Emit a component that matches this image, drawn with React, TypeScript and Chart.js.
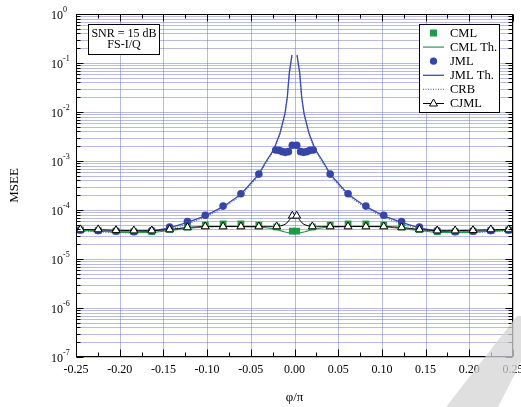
import React, { useEffect, useRef } from "react";
import { Chart, registerables } from "chart.js";

Chart.register(...registerables);

// ---------------- data ----------------
const cmlPhi = [-0.245, -0.2246, -0.2042, -0.1838, -0.1633, -0.1429, -0.1225, -0.1021, -0.0817, -0.0613, -0.0408, -0.0204, -0.0025, 0.0025, 0.0204, 0.0408, 0.0613, 0.0817, 0.1021, 0.1225, 0.1429, 0.1633, 0.1838, 0.2042, 0.2246, 0.245];
const cmlMsee = [3.9e-5, 3.8e-5, 3.7e-5, 3.6e-5, 3.6e-5, 4.0e-5, 4.5e-5, 4.9e-5, 5.2e-5, 5.2e-5, 4.9e-5, 4.5e-5, 3.7e-5, 3.7e-5, 4.5e-5, 4.9e-5, 5.2e-5, 5.2e-5, 4.9e-5, 4.5e-5, 4.0e-5, 3.6e-5, 3.6e-5, 3.7e-5, 3.8e-5, 3.9e-5];

const cmlThPhi = [-0.245, -0.2246, -0.2042, -0.1838, -0.1633, -0.1429, -0.1225, -0.1021, -0.0817, -0.0613, -0.0408, -0.0204, -0.012, -0.006, -0.002, 0.002, 0.006, 0.012, 0.0204, 0.0408, 0.0613, 0.0817, 0.1021, 0.1225, 0.1429, 0.1633, 0.1838, 0.2042, 0.2246, 0.245];
const cmlThMsee = [3.9e-5, 3.7e-5, 3.55e-5, 3.5e-5, 3.5e-5, 3.8e-5, 4.2e-5, 4.5e-5, 4.6e-5, 4.6e-5, 4.5e-5, 4.0e-5, 3.6e-5, 3.4e-5, 3.4e-5, 3.4e-5, 3.4e-5, 3.6e-5, 4.0e-5, 4.5e-5, 4.6e-5, 4.6e-5, 4.5e-5, 4.2e-5, 3.8e-5, 3.5e-5, 3.5e-5, 3.55e-5, 3.7e-5, 3.9e-5];

const jmlPhi = [-0.245, -0.2246, -0.2042, -0.1838, -0.1633, -0.1429, -0.1225, -0.1021, -0.0817, -0.0613, -0.0408, -0.0215, -0.0177, -0.014, -0.0105, -0.007, -0.0025, 0.0025, 0.007, 0.0105, 0.014, 0.0177, 0.0215, 0.0408, 0.0613, 0.0817, 0.1021, 0.1225, 0.1429, 0.1633, 0.1838, 0.2042, 0.2246, 0.245];
const jmlMsee = [3.9e-5, 3.8e-5, 3.7e-5, 3.6e-5, 3.8e-5, 4.5e-5, 5.8e-5, 7.8e-5, 1.2e-4, 2.15e-4, 5.4e-4, 1.68e-3, 1.65e-3, 1.55e-3, 1.5e-3, 1.55e-3, 2.1e-3, 2.1e-3, 1.55e-3, 1.5e-3, 1.55e-3, 1.65e-3, 1.68e-3, 5.4e-4, 2.15e-4, 1.2e-4, 7.8e-5, 5.8e-5, 4.5e-5, 3.8e-5, 3.6e-5, 3.7e-5, 3.8e-5, 3.9e-5];

const jmlThPhi = [-0.245, -0.2246, -0.2042, -0.1838, -0.1633, -0.1429, -0.1225, -0.1021, -0.0817, -0.0613, -0.0408, -0.0338, -0.0235, -0.0166, -0.0109, -0.0082, -0.006, -0.0029, 0, 0.0029, 0.006, 0.0082, 0.0109, 0.0166, 0.0235, 0.0338, 0.0408, 0.0613, 0.0817, 0.1021, 0.1225, 0.1429, 0.1633, 0.1838, 0.2042, 0.2246, 0.245];
const jmlThMsee = [3.9e-5, 3.75e-5, 3.6e-5, 3.55e-5, 3.7e-5, 4.3e-5, 5.6e-5, 7.6e-5, 1.17e-4, 2.1e-4, 5.4e-4, 9.0e-4, 1.75e-3, 3.7e-3, 9.4e-3, 2.05e-2, 6.2e-2, 1.46e-1, null, 1.46e-1, 6.2e-2, 2.05e-2, 9.4e-3, 3.7e-3, 1.75e-3, 9.0e-4, 5.4e-4, 2.1e-4, 1.17e-4, 7.6e-5, 5.6e-5, 4.3e-5, 3.7e-5, 3.55e-5, 3.6e-5, 3.75e-5, 3.9e-5];

const crbPhi = jmlThPhi;
const crbMsee = [3.7e-5, 3.55e-5, 3.45e-5, 3.4e-5, 3.5e-5, 4.0e-5, 5.2e-5, 7.1e-5, 1.09e-4, 1.95e-4, 5.0e-4, 8.4e-4, 1.62e-3, 3.45e-3, 8.8e-3, 1.9e-2, 5.8e-2, 1.38e-1, null, 1.38e-1, 5.8e-2, 1.9e-2, 8.8e-3, 3.45e-3, 1.62e-3, 8.4e-4, 5.0e-4, 1.95e-4, 1.09e-4, 7.1e-5, 5.2e-5, 4.0e-5, 3.5e-5, 3.4e-5, 3.45e-5, 3.55e-5, 3.7e-5];

const cjmlPhi = [-0.245, -0.2246, -0.2042, -0.1838, -0.1633, -0.1429, -0.1225, -0.1021, -0.0817, -0.0613, -0.0408, -0.0204, -0.0025, 0.0025, 0.0204, 0.0408, 0.0613, 0.0817, 0.1021, 0.1225, 0.1429, 0.1633, 0.1838, 0.2042, 0.2246, 0.245];
const cjmlMsee = [4.0e-5, 4.0e-5, 3.85e-5, 3.8e-5, 3.8e-5, 4.0e-5, 4.4e-5, 4.6e-5, 4.6e-5, 4.6e-5, 4.6e-5, 4.6e-5, 7.6e-5, 7.6e-5, 4.6e-5, 4.6e-5, 4.6e-5, 4.6e-5, 4.6e-5, 4.4e-5, 4.0e-5, 3.8e-5, 3.8e-5, 3.85e-5, 4.0e-5, 4.0e-5];

const cjmlLinePhi = [-0.245, -0.2246, -0.2042, -0.1838, -0.1633, -0.1429, -0.1225, -0.1021, -0.0817, -0.0613, -0.0408, -0.0204, -0.0108, -0.007, -0.004, -0.0025, 0.0025, 0.004, 0.007, 0.0108, 0.0204, 0.0408, 0.0613, 0.0817, 0.1021, 0.1225, 0.1429, 0.1633, 0.1838, 0.2042, 0.2246, 0.245];
const cjmlLineMsee = [4.0e-5, 3.95e-5, 3.85e-5, 3.8e-5, 3.8e-5, 4.0e-5, 4.4e-5, 4.6e-5, 4.6e-5, 4.6e-5, 4.6e-5, 4.6e-5, 5.1e-5, 5.9e-5, 7.0e-5, 7.6e-5, 7.6e-5, 7.0e-5, 5.9e-5, 5.1e-5, 4.6e-5, 4.6e-5, 4.6e-5, 4.6e-5, 4.6e-5, 4.4e-5, 4.0e-5, 3.8e-5, 3.8e-5, 3.85e-5, 3.95e-5, 4.0e-5];

const xTickValues = [-0.25, -0.2, -0.15, -0.1, -0.05, 0, 0.05, 0.1, 0.15, 0.2, 0.25];
const xTickLabels = ["-0.25", "-0.20", "-0.15", "-0.10", "-0.05", "0.00", "0.05", "0.10", "0.15", "0.20", "0.25"];
const yDecadeExponents = [0, -1, -2, -3, -4, -5, -6, -7];
const legendLabels = ["CML", "CML Th.", "JML", "JML Th.", "CRB", "CJML"];
const annotationLines = ["SNR = 15 dB", "FS-I/Q"];
const xTitle = "φ/π";
const yTitle = "MSEE";

// ---------------- styles ----------------
const FONT = '"Liberation Serif", "Times New Roman", serif';
const GREEN = "#1f9a4a";
const GREEN_LINE = "#2b9a52";
const BLUE = "#3646a6";
const BLUE_LINE = "#3c4cae";
const CRB_BLUE = "#6674c4";
const GRID = "rgba(112,118,200,0.5)";

const pts = (xs: number[], ys: (number | null)[]) => xs.map((x, i) => ({ x, y: ys[i] }));

const decorPlugin = {
  id: "decor",
  beforeDatasetsDraw(chart: any) {
    const { ctx, chartArea: a, scales } = chart;
    const x = scales.x, y = scales.y;
    ctx.save();
    ctx.strokeStyle = GRID;
    ctx.lineWidth = 1;
    ctx.beginPath();
    for (const v of xTickValues) {
      const px = Math.round(x.getPixelForValue(v)) + 0.5;
      ctx.moveTo(px, a.top);
      ctx.lineTo(px, a.bottom);
    }
    for (const e of yDecadeExponents) {
      if (e === 0) continue;
      for (let m = 1; m <= 9; m++) {
        const py = Math.round(y.getPixelForValue(m * Math.pow(10, e))) + 0.5;
        ctx.moveTo(a.left, py);
        ctx.lineTo(a.right, py);
      }
    }
    ctx.stroke();
    ctx.restore();
  },
  afterDraw(chart: any) {
    const { ctx, chartArea: a, scales } = chart;
    const x = scales.x, y = scales.y;
    ctx.save();
    const L = Math.round(a.left) + 0.5, R = Math.round(a.right) - 0.5;
    const T = Math.round(a.top) + 0.5, B = Math.round(a.bottom) - 0.5;
    ctx.strokeStyle = "#000";
    ctx.lineWidth = 1;
    ctx.beginPath();
    // x ticks
    xTickValues.forEach((v, i) => {
      const px = Math.round(x.getPixelForValue(v)) + 0.5;
      ctx.moveTo(px, B); ctx.lineTo(px, B - 7);
      ctx.moveTo(px, T); ctx.lineTo(px, T + 7);
      if (i < xTickValues.length - 1) {
        const pm = Math.round(x.getPixelForValue((v + xTickValues[i + 1]) / 2)) + 0.5;
        ctx.moveTo(pm, B); ctx.lineTo(pm, B - 4);
        ctx.moveTo(pm, T); ctx.lineTo(pm, T + 4);
      }
    });
    // y ticks
    for (const e of yDecadeExponents) {
      const py = Math.round(y.getPixelForValue(Math.pow(10, e))) + 0.5;
      ctx.moveTo(L, py); ctx.lineTo(L + 7, py);
      ctx.moveTo(R, py); ctx.lineTo(R - 7, py);
      if (e === 0) continue;
      for (let m = 2; m <= 9; m++) {
        const pm = Math.round(y.getPixelForValue(m * Math.pow(10, e))) + 0.5;
        ctx.moveTo(L, pm); ctx.lineTo(L + 4, pm);
        ctx.moveTo(R, pm); ctx.lineTo(R - 4, pm);
      }
    }
    ctx.stroke();
    ctx.strokeRect(L, T, R - L, B - T);

    // tick labels
    ctx.fillStyle = "#000";
    ctx.font = `12px ${FONT}`;
    ctx.textAlign = "center";
    ctx.textBaseline = "alphabetic";
    xTickValues.forEach((v, i) => {
      ctx.fillText(xTickLabels[i], x.getPixelForValue(v), a.bottom + 16);
    });
    for (const e of yDecadeExponents) {
      const py = y.getPixelForValue(Math.pow(10, e));
      ctx.font = `12px ${FONT}`;
      ctx.textAlign = "right";
      ctx.fillText("10", a.left - 13, py + 5);
      ctx.font = `8px ${FONT}`;
      ctx.textAlign = "left";
      ctx.fillText(String(e), a.left - 13, py - 2);
    }
    // axis titles
    ctx.font = `13px ${FONT}`;
    ctx.textAlign = "center";
    ctx.fillText(xTitle, (a.left + a.right) / 2, 401);
    ctx.save();
    ctx.translate(18, (a.top + a.bottom) / 2);
    ctx.rotate(-Math.PI / 2);
    ctx.fillText(yTitle, 0, 0);
    ctx.restore();

    // annotation box
    ctx.fillStyle = "#fff";
    ctx.fillRect(88.5, 24.5, 71, 30);
    ctx.strokeRect(88.5, 24.5, 71, 30);
    ctx.fillStyle = "#000";
    ctx.font = `12px ${FONT}`;
    ctx.textAlign = "center";
    ctx.textBaseline = "middle";
    ctx.fillText(annotationLines[0], 124, 33.5);
    ctx.fillText(annotationLines[1], 124, 45);

    // legend
    ctx.fillStyle = "#fff";
    ctx.fillRect(419.5, 24.5, 80, 88);
    ctx.strokeStyle = "#000";
    ctx.strokeRect(419.5, 24.5, 80, 88);
    const rowY = (i: number) => 33 + i * 14.1;
    const sx0 = 423, sx1 = 444, sc = 433.5;
    legendLabels.forEach((lab, i) => {
      const yy = rowY(i);
      ctx.save();
      if (i === 0) {
        ctx.fillStyle = GREEN;
        ctx.fillRect(sc - 3.5, yy - 3.5, 7, 7);
      } else if (i === 1) {
        ctx.strokeStyle = GREEN_LINE; ctx.lineWidth = 1.2;
        ctx.beginPath(); ctx.moveTo(sx0, yy); ctx.lineTo(sx1, yy); ctx.stroke();
      } else if (i === 2) {
        ctx.fillStyle = BLUE;
        ctx.beginPath(); ctx.arc(sc, yy, 3.6, 0, Math.PI * 2); ctx.fill();
      } else if (i === 3) {
        ctx.strokeStyle = BLUE_LINE; ctx.lineWidth = 1.3;
        ctx.beginPath(); ctx.moveTo(sx0, yy); ctx.lineTo(sx1, yy); ctx.stroke();
      } else if (i === 4) {
        ctx.strokeStyle = CRB_BLUE; ctx.lineWidth = 1.2; ctx.setLineDash([1, 1.5]);
        ctx.beginPath(); ctx.moveTo(sx0, yy); ctx.lineTo(sx1, yy); ctx.stroke();
      } else {
        ctx.strokeStyle = "#000"; ctx.lineWidth = 1;
        ctx.beginPath(); ctx.moveTo(sx0, yy); ctx.lineTo(sx1, yy); ctx.stroke();
        ctx.fillStyle = "#fff";
        ctx.beginPath();
        ctx.moveTo(sc, yy - 4.5); ctx.lineTo(sc + 4, yy + 2.5); ctx.lineTo(sc - 4, yy + 2.5); ctx.closePath();
        ctx.fill(); ctx.stroke();
      }
      ctx.restore();
      ctx.fillStyle = "#000";
      ctx.font = `12.5px ${FONT}`;
      ctx.textAlign = "left";
      ctx.textBaseline = "middle";
      ctx.fillText(lab, 450, yy + 0.5);
    });

    // light grey watermark band
    ctx.fillStyle = "rgba(212,212,212,0.75)";
    ctx.beginPath();
    ctx.moveTo(517, 316);
    ctx.lineTo(521, 316);
    ctx.lineTo(521, 362);
    ctx.lineTo(498, 407);
    ctx.lineTo(446, 407);
    ctx.closePath();
    ctx.fill();
    ctx.restore();
  },
};

export default function App() {
  const ref = useRef<HTMLCanvasElement | null>(null);
  useEffect(() => {
    document.body.style.margin = "0";
    const canvas = ref.current;
    if (!canvas) return;
    const chart = new Chart(canvas, {
      type: "line",
      data: {
        datasets: [
          { label: "CJML markers", data: pts(cjmlPhi, cjmlMsee), showLine: false, pointStyle: "triangle", pointRadius: 4.6, pointBackgroundColor: "#fff", pointBorderColor: "#000", pointBorderWidth: 1, order: 0 },
          { label: "CJML", data: pts(cjmlLinePhi, cjmlLineMsee), borderColor: "#000", borderWidth: 1, pointRadius: 0, tension: 0.3, order: 1 },
          { label: "JML", data: pts(jmlPhi, jmlMsee), showLine: false, pointStyle: "circle", pointRadius: 3.8, pointBackgroundColor: BLUE, pointBorderColor: BLUE, pointBorderWidth: 0, order: 2 },
          { label: "CML", data: pts(cmlPhi, cmlMsee), showLine: false, pointStyle: "rect", pointRadius: 4.8, pointBackgroundColor: GREEN, pointBorderColor: GREEN, pointBorderWidth: 0, order: 3 },
          { label: "CML Th.", data: pts(cmlThPhi, cmlThMsee), borderColor: GREEN_LINE, borderWidth: 1.2, pointRadius: 0, tension: 0.3, order: 4 },
          { label: "JML Th.", data: pts(jmlThPhi, jmlThMsee), borderColor: BLUE_LINE, borderWidth: 1.3, pointRadius: 0, spanGaps: false, order: 5 },
          { label: "CRB", data: pts(crbPhi, crbMsee), borderColor: CRB_BLUE, borderWidth: 1.2, borderDash: [1, 1.5], pointRadius: 0, spanGaps: false, order: 6 },
        ],
      },
      options: {
        animation: false,
        responsive: false,
        devicePixelRatio: 1,
        layout: { padding: { left: 76, right: 8, top: 14, bottom: 50 } },
        plugins: { legend: { display: false }, tooltip: { enabled: false } },
        scales: {
          x: { type: "linear", min: -0.25, max: 0.25, display: false },
          y: { type: "logarithmic", min: 1e-7, max: 1, display: false },
        },
      },
      plugins: [decorPlugin],
    });
    return () => chart.destroy();
  }, []);
  return (
    <div style={{ width: 521, height: 407, background: "#fff" }}>
      <canvas ref={ref} width={521} height={407} style={{ display: "block" }} />
    </div>
  );
}
